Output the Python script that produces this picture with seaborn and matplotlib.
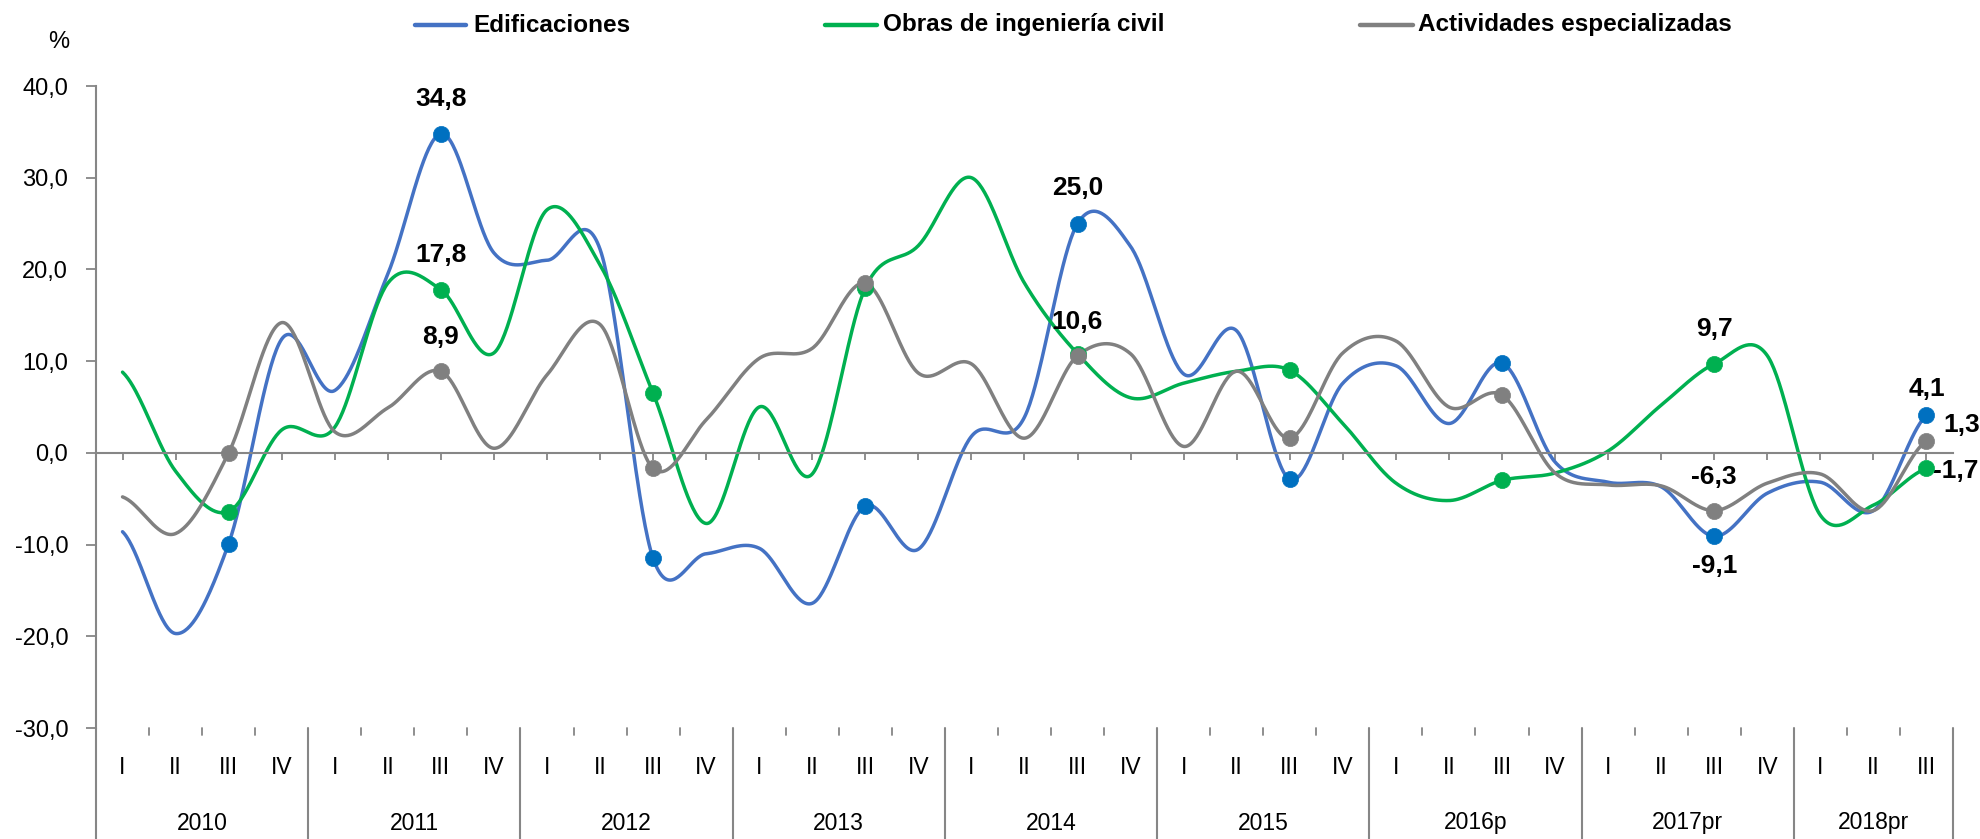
import numpy as np
import pandas as pd
import matplotlib
matplotlib.use("Agg")
import matplotlib.pyplot as plt
import seaborn as sns
from matplotlib.lines import Line2D

# ---------------- data ----------------
years = ["2010", "2011", "2012", "2013", "2014", "2015", "2016p", "2017pr", "2018pr"]
quarter_names = ["I", "II", "III", "IV"]
quarters_per_year = [4, 4, 4, 4, 4, 4, 4, 4, 3]

edificaciones = [-8.6, -19.7, -9.9, 12.4, 6.8, 19.5, 34.8, 21.8, 21.0, 22.2, -11.5, -11.0,
                 -10.4, -16.4, -5.8, -10.5, 1.8, 3.9, 25.0, 22.5, 8.6, 13.3, -2.9, 7.6,
                 9.5, 3.2, 9.8, -1.0, -3.2, -3.7, -9.1, -4.4, -3.2, -6.3, 4.1]
obras = [8.8, -2.0, -6.4, 2.5, 2.8, 18.5, 17.8, 10.9, 26.5, 20.5, 6.5, -7.7,
         5.0, -2.3, 18.0, 22.6, 30.0, 18.5, 10.8, 6.0, 7.6, 8.9, 9.0, 3.2,
         -3.3, -5.2, -3.0, -2.2, 0.2, 5.2, 9.7, 10.6, -6.8, -5.7, -1.7]
actividades = [-4.8, -8.8, 0.0, 14.2, 2.3, 4.9, 8.9, 0.5, 8.5, 14.0, -1.7, 3.6,
               10.3, 11.4, 18.5, 8.7, 9.7, 1.6, 10.6, 10.8, 0.7, 8.9, 1.6, 10.9,
               12.2, 5.0, 6.3, -2.2, -3.5, -3.6, -6.3, -3.3, -2.3, -6.3, 1.3]

series_names = ["Edificaciones", "Obras de ingeniería civil", "Actividades especializadas"]
line_colors = ["#4472C4", "#00B050", "#808080"]
marker_colors = ["#0070C0", "#00B050", "#808080"]

# data labels: (series index, point index, text, dx_pt, dy_pt, ha)
labels = [
    (0, 6, "34,8", 0, 25, "center"),
    (1, 6, "17,8", 0, 25, "center"),
    (2, 6, "8,9", 0, 24.5, "center"),
    (0, 18, "25,0", 0, 25.5, "center"),
    (2, 18, "10,6", 0, 24.5, "center"),
    (1, 30, "9,7", 0, 25, "center"),
    (2, 30, "-6,3", 0, 24.5, "center"),
    (0, 30, "-9,1", 0, -21.5, "center"),
    (0, 34, "4,1", 0, 19, "center"),
    (2, 34, "1,3", 12, 11.5, "left"),
    (1, 34, "-1,7", 4.5, -2, "left"),
]

# ---------------- helpers ----------------
quarter_labels = []
for y, nq in zip(years, quarters_per_year):
    for q in range(nq):
        quarter_labels.append(quarter_names[q])
n = len(quarter_labels)
xpos = np.arange(n)


def smooth(vals, steps=40):
    """Catmull-Rom smoothing (Excel-like smoothed line) through the data points."""
    P = np.asarray(vals, dtype=float)
    Pe = np.concatenate([[P[0]], P, [P[-1]]])
    xs, ys = [], []
    t = np.linspace(0, 1, steps, endpoint=False)
    h00 = 2 * t**3 - 3 * t**2 + 1
    h10 = t**3 - 2 * t**2 + t
    h01 = -2 * t**3 + 3 * t**2
    h11 = t**3 - t**2
    for i in range(len(P) - 1):
        p0, p1 = Pe[i + 1], Pe[i + 2]
        m0 = (Pe[i + 2] - Pe[i]) / 2
        m1 = (Pe[i + 3] - Pe[i + 1]) / 2
        xs.append(i + t)
        ys.append(h00 * p0 + h10 * m0 + h01 * p1 + h11 * m1)
    xs.append([len(P) - 1])
    ys.append([P[-1]])
    return np.concatenate(xs), np.concatenate(ys)


# ---------------- figure ----------------
sns.set_theme(style="white")
plt.rcParams["font.family"] = ["Liberation Sans", "DejaVu Sans"]

W, H = 1981, 839
fig = plt.figure(figsize=(W / 100, H / 100), dpi=100)
ax_left, ax_right, ax_top, ax_bottom = 96, 1953, 86, 728
ax = fig.add_axes([ax_left / W, 1 - ax_bottom / H, (ax_right - ax_left) / W, (ax_bottom - ax_top) / H])

axis_color = "#868686"
all_series = [edificaciones, obras, actividades]
marker_idx = [i for i, q in enumerate(quarter_labels) if q == "III"]

for vals, lc, mc, name in zip(all_series, line_colors, marker_colors, series_names):
    sx, sy = smooth(vals)
    sns.lineplot(x=sx, y=sy, ax=ax, color=lc, linewidth=2.5, sort=False, estimator=None, legend=False)
    mdf = pd.DataFrame({"x": xpos[marker_idx], "y": np.asarray(vals)[marker_idx]})
    sns.scatterplot(data=mdf, x="x", y="y", ax=ax, color=mc, s=135, edgecolor=mc, linewidth=0.5,
                    legend=False, zorder=5)

for si, pi, txt, dx, dy, ha in labels:
    ax.annotate(txt, xy=(xpos[pi], all_series[si][pi]), xytext=(dx, dy), textcoords="offset points",
                ha=ha, va="center", fontsize=19, fontweight="bold", color="black", annotation_clip=False)

ax.set_xlim(-0.5, n - 0.5)
ax.set_ylim(-30, 40)
ax.set_xlabel("")
ax.set_ylabel("")

# y axis
yt = np.arange(-30, 41, 10)
ax.set_yticks(yt)
ax.set_yticklabels([f"{v:.1f}".replace(".", ",") for v in yt], fontsize=17, color="black")
ax.tick_params(axis="y", direction="out", length=7, width=1.3, color=axis_color, pad=13, left=True)

# x axis line through zero
for s in ["top", "right"]:
    ax.spines[s].set_visible(False)
ax.spines["left"].set_color(axis_color)
ax.spines["left"].set_linewidth(1.5)
ax.spines["bottom"].set_position(("data", 0))
ax.spines["bottom"].set_color(axis_color)
ax.spines["bottom"].set_linewidth(1.5)
ax.set_xticks(xpos)
ax.tick_params(axis="x", direction="out", length=5, width=1.3, color=axis_color, labelbottom=False, bottom=True)

# category axis (multi-level) below the plot
tr = ax.get_xaxis_transform()
q_y = (ax_bottom - 767) / (ax_bottom - ax_top)
y_y = (ax_bottom - 823) / (ax_bottom - ax_top)
end_y = (ax_bottom - H) / (ax_bottom - ax_top)
tick_y = (ax_bottom - 735) / (ax_bottom - ax_top)

for i, q in enumerate(quarter_labels):
    ax.text(xpos[i], q_y, q, transform=tr, ha="center", va="center", fontsize=16.5, color="black")

start = 0
for y, nq in zip(years, quarters_per_year):
    center = start + (nq - 1) / 2
    ax.text(center, y_y, y, transform=tr, ha="center", va="center", fontsize=16.5, color="black")
    start += nq

boundaries = np.arange(n + 1) - 0.5
year_bounds = set(np.cumsum([0] + quarters_per_year) - 0.5)
for b in boundaries:
    if b in year_bounds:
        ax.add_line(Line2D([b, b], [0, end_y], transform=tr, color=axis_color, lw=1.5, clip_on=False))
    else:
        ax.add_line(Line2D([b, b], [0, tick_y], transform=tr, color=axis_color, lw=1.3, clip_on=False))

# % unit
fig.text(59 / W, 1 - 42 / H, "%", ha="center", va="center", fontsize=17, color="black")

# legend (manual, across the top)
leg = [(415, 466, 473), (825, 877, 883), (1360, 1413, 1418)]
ly = 1 - 25 / H
for (x0, x1, tx), lc, name in zip(leg, line_colors, series_names):
    fig.add_artist(Line2D([x0 / W, x1 / W], [ly, ly], transform=fig.transFigure, color=lc, lw=3.2,
                          solid_capstyle="round"))
    fig.text(tx / W, ly, name, ha="left", va="center", fontsize=17.5, fontweight="bold", color="black")

fig.savefig("out.png", dpi=100)
